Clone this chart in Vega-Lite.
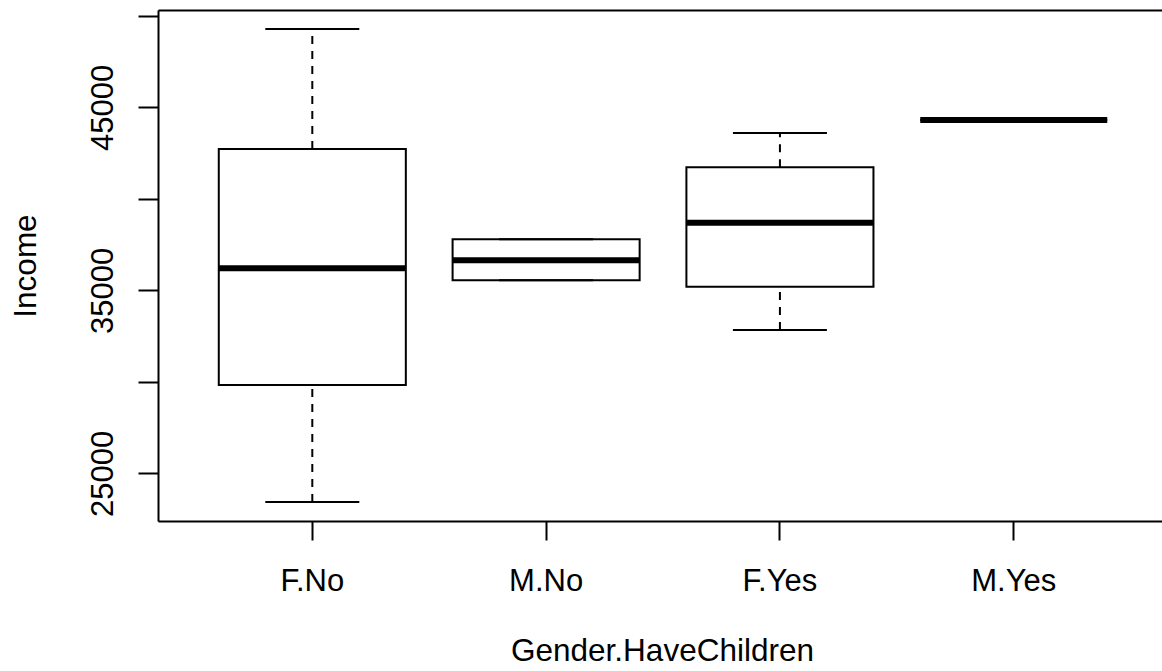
{
  "$schema": "https://vega.github.io/schema/vega-lite/v6.json",
  "autosize": "none",
  "width": 1004,
  "height": 511,
  "padding": {"left": 158, "top": 10, "right": 0, "bottom": 150},
  "background": "white",
  "config": {
    "view": {"stroke": null},
    "font": "Liberation Sans",
    "axis": {
      "grid": false,
      "domainColor": "black",
      "domainWidth": 2,
      "tickColor": "black",
      "tickWidth": 2,
      "labelColor": "black",
      "titleColor": "black",
      "labelFont": "Liberation Sans",
      "titleFont": "Liberation Sans",
      "labelFontSize": 31,
      "titleFontSize": 31.5,
      "titleFontWeight": "normal"
    }
  },
  "data": {
    "values": [
      {"group": "F.No", "lower": 23430, "q1": 29825, "median": 36202, "q3": 42721, "upper": 49280},
      {"group": "M.No", "lower": 35546, "q1": 35546, "median": 36639, "q3": 37787, "upper": 37787},
      {"group": "F.Yes", "lower": 32831, "q1": 35197, "median": 38694, "q3": 41721, "upper": 43596},
      {"group": "M.Yes", "lower": 44306, "q1": 44306, "median": 44306, "q3": 44306, "upper": 44306}
    ]
  },
  "encoding": {
    "x": {
      "field": "group",
      "type": "nominal",
      "sort": ["F.No", "M.No", "F.Yes", "M.Yes"],
      "scale": {"paddingInner": 0, "paddingOuter": 0.147, "align": 0.544}
    }
  },
  "resolve": {"axis": {"x": "independent", "y": "independent"}},
  "layer": [
    {
      "mark": {"type": "rule", "strokeDash": [8, 7], "strokeWidth": 2, "color": "black"},
      "encoding": {
        "x": {
          "field": "group", "type": "nominal", "sort": ["F.No", "M.No", "F.Yes", "M.Yes"],
          "axis": {
            "orient": "bottom", "title": "Gender.HaveChildren", "labelAngle": 0,
            "tickSize": 19, "labelPadding": 50, "labelBaseline": "alphabetic",
            "titleBaseline": "alphabetic", "titleX": 504, "titleY": 139, "titleAnchor": null
          }
        },
        "y": {
          "field": "lower", "type": "quantitative",
          "scale": {"domain": [22393, 50317], "nice": false, "zero": false},
          "axis": {
            "title": "Income", "values": [25000, 30000, 35000, 40000, 45000, 50000],
            "format": "d",
            "labelExpr": "datum.value == 25000 || datum.value == 35000 || datum.value == 45000 ? datum.label : ''",
            "labelAngle": -90, "labelAlign": "center", "labelBaseline": "alphabetic",
            "tickSize": 20, "labelPadding": 26, "labelOverlap": false, "labelFlush": false,
            "titleAngle": -90, "titleAlign": "center", "titleBaseline": "alphabetic",
            "titleX": -123, "titleY": 255.5
          }
        },
        "y2": {"field": "q1"}
      }
    },
    {
      "mark": {"type": "rule", "strokeDash": [8, 7], "strokeWidth": 2, "color": "black"},
      "encoding": {
        "x": {
          "field": "group", "type": "nominal", "sort": ["F.No", "M.No", "F.Yes", "M.Yes"],
          "axis": {"orient": "top", "ticks": false, "labels": false, "title": null}
        },
        "y": {"field": "q3", "type": "quantitative", "axis": null},
        "y2": {"field": "upper"}
      }
    },
    {
      "mark": {"type": "bar", "fill": "white", "stroke": "black", "strokeWidth": 2, "width": {"band": 0.8}},
      "encoding": {
        "x": {"field": "group", "type": "nominal", "sort": ["F.No", "M.No", "F.Yes", "M.Yes"], "axis": null},
        "y": {"field": "q1", "type": "quantitative", "axis": null},
        "y2": {"field": "q3"}
      }
    },
    {
      "mark": {"type": "tick", "color": "black", "size": 94, "thickness": 2, "opacity": 1},
      "encoding": {
        "x": {"field": "group", "type": "nominal", "sort": ["F.No", "M.No", "F.Yes", "M.Yes"], "axis": null},
        "y": {"field": "lower", "type": "quantitative", "axis": null}
      }
    },
    {
      "mark": {"type": "tick", "color": "black", "size": 94, "thickness": 2, "opacity": 1},
      "encoding": {
        "x": {"field": "group", "type": "nominal", "sort": ["F.No", "M.No", "F.Yes", "M.Yes"], "axis": null},
        "y": {"field": "upper", "type": "quantitative", "axis": null}
      }
    },
    {
      "mark": {"type": "tick", "color": "black", "size": 187, "thickness": 6, "opacity": 1},
      "encoding": {
        "x": {"field": "group", "type": "nominal", "sort": ["F.No", "M.No", "F.Yes", "M.Yes"], "axis": null},
        "y": {"field": "median", "type": "quantitative", "axis": null}
      }
    }
  ]
}
